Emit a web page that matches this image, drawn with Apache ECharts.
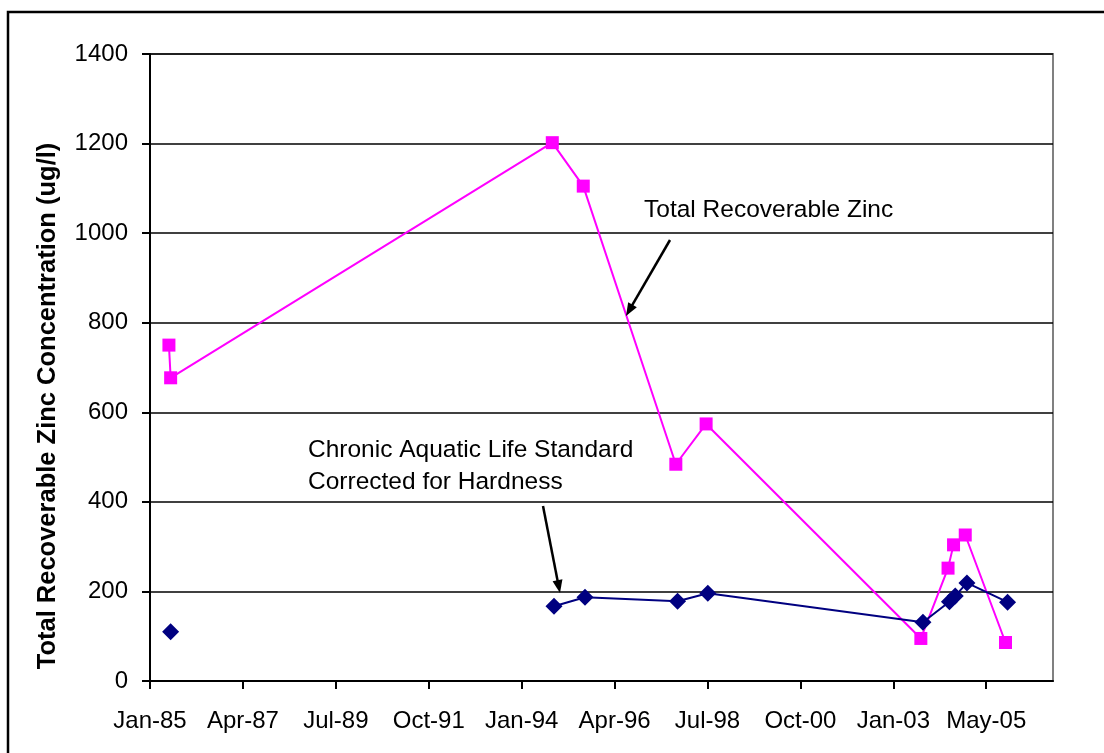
<!DOCTYPE html>
<html>
<head>
<meta charset="utf-8">
<script src="https://cdn.jsdelivr.net/npm/echarts@6/dist/echarts.min.js"></script>
<style>
html,body{margin:0;padding:0;background:#fff;}
#chart{width:1104px;height:753px;}
</style>
</head>
<body>
<div id="chart"></div>
<script>
// x values: months since Jan-1985
const xTickLabels = ['Jan-85','Apr-87','Jul-89','Oct-91','Jan-94','Apr-96','Jul-98','Oct-00','Jan-03','May-05'];
const zincMonths = [5.5, 6.0, 116.9, 125.9, 152.8, 161.6, 224.0, 231.9, 233.5, 236.9, 248.6];
const zincValues = [750, 677, 1202, 1105, 484, 574, 95, 252, 304, 326, 86];
const stdMonths = [6.0, 117.4, 126.4, 153.3, 162.1, 224.6, 232.3, 234.0, 237.4, 249.2];
const stdValues = [110, 167, 187, 178, 196, 131, 177, 190, 219, 176];
const yTitle = 'Total Recoverable Zinc Concentration (ug/l)';
const zincLabel = 'Total Recoverable Zinc';
const stdLabel = ['Chronic Aquatic Life Standard', 'Corrected for Hardness'];

const FONT = '"Liberation Sans", Arial, sans-serif';
const X_INTERVAL = 27;

const zincData = zincMonths.map((m, i) => [m, zincValues[i]]);
const stdData = [];
stdMonths.forEach((m, i) => {
  stdData.push([m, stdValues[i]]);
  if (i === 0) stdData.push([60, '-']); // gap: first point not connected
});

function arrow(x1, y1, x2, y2) {
  const dx = x2 - x1, dy = y2 - y1;
  const len = Math.sqrt(dx * dx + dy * dy);
  const ux = dx / len, uy = dy / len;
  const L = 13, W = 5;
  const bx = x2 - ux * L, by = y2 - uy * L;
  const px = -uy * W, py = ux * W;
  return [
    { type: 'line', shape: { x1: x1, y1: y1, x2: bx + ux * 2, y2: by + uy * 2 }, style: { stroke: '#000', lineWidth: 2.5 }, z: 100 },
    { type: 'polygon', shape: { points: [[x2, y2], [bx + px, by + py], [bx - px, by - py]] }, style: { fill: '#000' }, z: 100 }
  ];
}

const chart = echarts.init(document.getElementById('chart'), null, { renderer: 'canvas' });
chart.setOption({
  animation: false,
  backgroundColor: '#fff',
  grid: { left: 150, top: 54, right: 51, bottom: 72, show: true, borderColor: '#808080', borderWidth: 2, backgroundColor: 'transparent' },
  xAxis: {
    type: 'value', min: 0, max: 262.4, interval: X_INTERVAL,
    axisLine: { show: true, onZero: false, lineStyle: { color: '#000', width: 2 } },
    axisTick: { show: true, length: 8, lineStyle: { color: '#000', width: 2 } },
    splitLine: { show: false },
    axisLabel: {
      margin: 28, fontFamily: FONT, fontSize: 24, color: '#000',
      showMaxLabel: false,
      formatter: function (v) { const i = Math.round(v / X_INTERVAL); return xTickLabels[i] || ''; }
    }
  },
  yAxis: {
    type: 'value', min: 0, max: 1400, interval: 200,
    axisLine: { show: true, lineStyle: { color: '#000', width: 2 } },
    axisTick: { show: true, length: 8, lineStyle: { color: '#000', width: 2 } },
    splitLine: { show: true, lineStyle: { color: '#000', width: 1.5 } },
    axisLabel: { margin: 22, fontFamily: FONT, fontSize: 24, color: '#000', formatter: function (v) { return String(v); } }
  },
  series: [
    {
      name: zincLabel, type: 'line', data: zincData,
      symbol: 'rect', symbolSize: 13,
      lineStyle: { color: '#FF00FF', width: 2 },
      itemStyle: { color: '#FF00FF' }, z: 3
    },
    {
      name: stdLabel.join(' '), type: 'line', data: stdData, connectNulls: false,
      symbol: 'diamond', symbolSize: 17,
      lineStyle: { color: '#000080', width: 2 },
      itemStyle: { color: '#000080' }, z: 4
    }
  ],
  graphic: [
    { type: 'rect', shape: { x: 8, y: 12, width: 1200, height: 900 }, style: { fill: 'none', stroke: '#000', lineWidth: 2.5 }, silent: true },
    { type: 'text', x: 48, y: 406, rotation: Math.PI / 2,
      style: { text: yTitle, font: 'bold 25.5px ' + FONT, fill: '#000', textAlign: 'center', textVerticalAlign: 'middle' } },
    { type: 'text', x: 644, y: 210,
      style: { text: zincLabel, font: '24.5px ' + FONT, fill: '#000', textAlign: 'left', textVerticalAlign: 'middle' }, z: 100 },
    { type: 'text', x: 308, y: 450,
      style: { text: stdLabel[0], font: '24.5px ' + FONT, fill: '#000', textAlign: 'left', textVerticalAlign: 'middle' }, z: 100 },
    { type: 'text', x: 308, y: 482,
      style: { text: stdLabel[1], font: '24.5px ' + FONT, fill: '#000', textAlign: 'left', textVerticalAlign: 'middle' }, z: 100 }
  ].concat(arrow(670, 240, 626, 316)).concat(arrow(543, 506, 560, 593))
});
</script>
</body>
</html>
